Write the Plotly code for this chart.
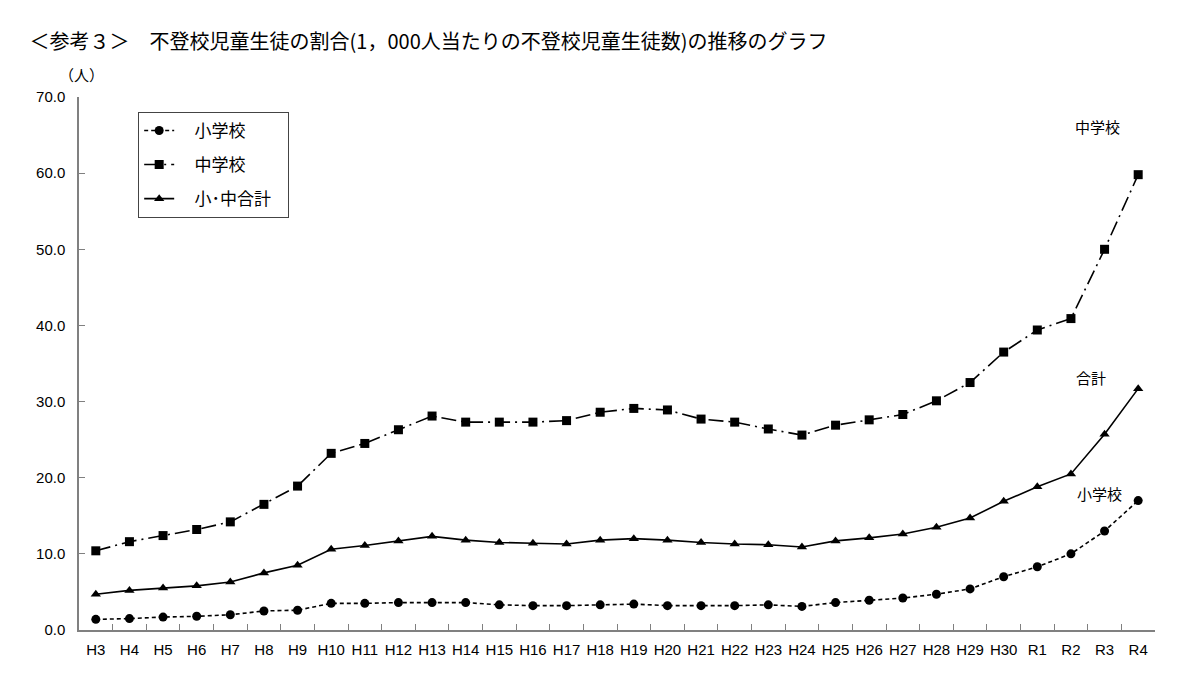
import plotly.graph_objects as go

years = ["H3", "H4", "H5", "H6", "H7", "H8", "H9", "H10", "H11", "H12", "H13", "H14", "H15", "H16",
         "H17", "H18", "H19", "H20", "H21", "H22", "H23", "H24", "H25", "H26", "H27", "H28", "H29",
         "H30", "R1", "R2", "R3", "R4"]

elementary = [1.4, 1.5, 1.7, 1.8, 2.0, 2.5, 2.6, 3.5, 3.5, 3.6, 3.6, 3.6, 3.3, 3.2, 3.2, 3.3, 3.4,
              3.2, 3.2, 3.2, 3.3, 3.1, 3.6, 3.9, 4.2, 4.7, 5.4, 7.0, 8.3, 10.0, 13.0, 17.0]
junior_high = [10.4, 11.6, 12.4, 13.2, 14.2, 16.5, 18.9, 23.2, 24.5, 26.3, 28.1, 27.3, 27.3, 27.3,
               27.5, 28.6, 29.1, 28.9, 27.7, 27.3, 26.4, 25.6, 26.9, 27.6, 28.3, 30.1, 32.5, 36.5,
               39.4, 40.9, 50.0, 59.8]
total = [4.7, 5.2, 5.5, 5.8, 6.3, 7.5, 8.5, 10.6, 11.1, 11.7, 12.3, 11.8, 11.5, 11.4, 11.3, 11.8,
         12.0, 11.8, 11.5, 11.3, 11.2, 10.9, 11.7, 12.1, 12.6, 13.5, 14.7, 16.9, 18.8, 20.5, 25.7, 31.7]

jp_font = "Noto Sans CJK JP"
num_font = "Liberation Sans Narrow, Liberation Sans"
pad = "\u00a0\u00a0\u00a0\u00a0"  # push legend text right, like the original box
tail = "\u00a0\u00a0\u00a0"

fig = go.Figure()
fig.add_trace(go.Scatter(x=years, y=elementary, name=pad + "小学校", legendgroup="a",
                         mode="lines+markers",
                         line=dict(color="black", width=1.6, dash="4px,3px"),
                         marker=dict(symbol="circle", size=9, color="black")))
fig.add_trace(go.Scatter(x=years, y=junior_high, name=pad + "中学校", legendgroup="b",
                         mode="lines+markers",
                         line=dict(color="black", width=1.6, dash="15px,5px,2px,5px"),
                         marker=dict(symbol="square", size=9, color="black")))
fig.add_trace(go.Scatter(x=years, y=total, name=pad + "小･中合計" + tail, legendgroup="c",
                         mode="lines+markers",
                         line=dict(color="black", width=1.6),
                         marker=dict(symbol="triangle-up", size=9, color="black")))

# labels at the right end of each line
end_labels = [("中学校", 29.8, 66.1), ("合計", 29.6, 33.1), ("小学校", 29.85, 17.9)]
for text, xv, yv in end_labels:
    fig.add_annotation(x=xv, y=yv, text=text, showarrow=False, xanchor="center",
                       yanchor="middle", font=dict(family=jp_font, size=15, color="black"))

fig.add_annotation(xref="paper", yref="paper", x=-0.02, y=1.018, text="（人）", showarrow=False,
                   xanchor="left", yanchor="bottom", font=dict(family=jp_font, size=15, color="black"))

fig.update_layout(
    width=1200, height=680,
    margin=dict(l=71, r=53, t=89, b=58),
    paper_bgcolor="white", plot_bgcolor="white",
    title=dict(text="＜参考３＞　不登校児童生徒の割合(1，000人当たりの不登校児童生徒数)の推移のグラフ",
               x=0.018, xanchor="left", y=0.95, yanchor="middle",
               font=dict(family=jp_font, size=20, color="black")),
    legend=dict(x=0.055, y=0.972, xanchor="left", yanchor="top",
                bordercolor="#444444", borderwidth=1, bgcolor="white",
                tracegroupgap=9,
                font=dict(family=jp_font, size=17, color="black")),
    showlegend=True,
)
fig.update_xaxes(type="category", range=[-0.5, 31.5], showgrid=False,
                 showline=True, linecolor="#808080", linewidth=1.5,
                 ticks="inside", tickson="boundaries", ticklen=6, tickcolor="#808080",
                 ticklabelstandoff=5, tickangle=0,
                 tickfont=dict(family=num_font, size=15, color="black"))
fig.update_yaxes(range=[0, 70], dtick=10, tickformat=".1f", showgrid=False, zeroline=False,
                 showline=True, linecolor="#808080", linewidth=1.5,
                 ticks="inside", ticklen=6, tickcolor="#808080",
                 ticklabelstandoff=9,
                 tickfont=dict(family=num_font, size=15, color="black"))

fig.write_html("out.html")
